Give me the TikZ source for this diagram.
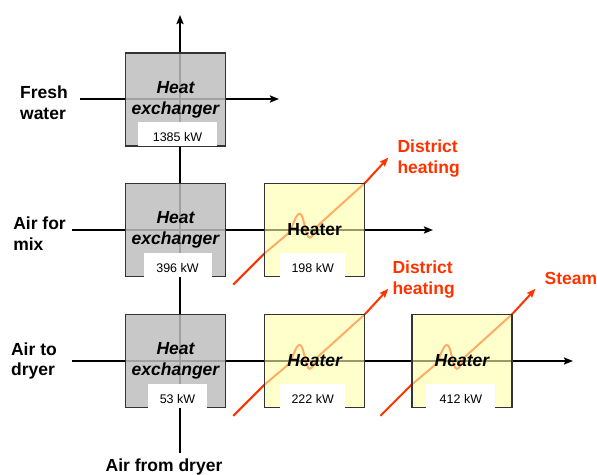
\documentclass[tikz,border=0pt]{standalone}
\usepackage{fontspec}
\setmainfont{Liberation Sans}
\usetikzlibrary{positioning, calc, arrows.meta, backgrounds}
\definecolor{hx_fill}{HTML}{BEBEBE}
\definecolor{heater_fill}{HTML}{FFFFAA}
\definecolor{hot}{HTML}{FF3300}

\begin{document}
\begin{tikzpicture}[
    x=1pt, y=1pt,
    >={Stealth[length=9pt, width=7pt, inset=1.5pt]},
    font=\bfseries\fontsize{17.5pt}{21pt}\selectfont,
    block/.style={
        draw=black!80,
        line width=1.2pt,
        align=center,
        minimum width=100pt,
        minimum height=93pt,
        inner sep=0pt,
        text opacity=1
    },
    exchanger/.style={block, fill=hx_fill, fill opacity=0.85,
        font=\bfseries\itshape\fontsize{17.5pt}{21pt}\selectfont},
    heater/.style={block, fill=heater_fill, fill opacity=0.6},
    duty/.style={
        fill=white,
        inner sep=0pt,
        minimum height=24pt,
        text height=15pt,
        text depth=0pt,
        font=\mdseries\fontsize{12.5pt}{14pt}\selectfont
    },
    stream/.style={line width=2pt},
    hot_line/.style={line width=2pt, draw=hot},
    stream_label/.style={align=left, inner sep=0pt},
    hot_label/.style={stream_label, text=hot}
]
\useasboundingbox (0,0) rectangle (597,474);

\node[exchanger] (HX1) at (175.5,374.5) {Heat\\exchanger};
\node[exchanger, below=36pt of HX1] (HX2) {Heat\\exchanger};
\node[exchanger, below=37pt of HX2] (HX3) {Heat\\exchanger};
\node[heater, right=38pt of HX2] (HA) {Heater};
\node[heater, right=38pt of HX3, font=\bfseries\itshape\fontsize{17.5pt}{21pt}\selectfont] (HB) {Heater};
\node[heater, right=46pt of HB, font=\bfseries\itshape\fontsize{17.5pt}{21pt}\selectfont] (HC) {Heater};

\node[duty, minimum width=79pt, above=0pt of HX1.south, xshift=2pt] (HX1_duty) {1385 kW};
\node[duty, minimum width=68pt, above=0pt of HX2.south, xshift=2pt] (HX2_duty) {396 kW};
\node[duty, minimum width=59pt, above=0pt of HX3.south, xshift=2pt] (HX3_duty) {53 kW};
\node[duty, minimum width=65pt, above=0pt of HA.south, xshift=-2pt] (HA_duty) {198 kW};
\node[duty, minimum width=65pt, above=0pt of HB.south, xshift=-2pt] (HB_duty) {222 kW};
\node[duty, minimum width=69pt, above=0pt of HC.south, xshift=-1pt] (HC_duty) {412 kW};

\coordinate (fw_in) at (80,375);
\coordinate (fw_out) at (279,375);
\coordinate (mix_in) at (72,244);
\coordinate (mix_out) at (433,244);
\coordinate (dryer_air_in) at (72,113);
\coordinate (dryer_air_out) at (573,113);
\coordinate (exhaust_in) at (180,21);
\coordinate (exhaust_out) at (180,459);

\begin{scope}[on background layer]
    \draw[stream, ->] (fw_in) -- (fw_out);
    \draw[stream, ->] (mix_in) -- (mix_out);
    \draw[stream, ->] (dryer_air_in) -- (dryer_air_out);
    \draw[stream, ->] (exhaust_in) -- (exhaust_out);
    % hot water / steam coils
    \foreach \h in {HA, HB, HC} {
        \draw[hot_line, ->, shift={(\h.center)}]
            (-81.5,-55) -- (-50.5,-24) -- (-28,-5)
            .. controls (-22,0) and (-19.5,16) .. (-15,16)
            .. controls (-10.5,16) and (-9.5,-8) .. (-5,-8)
            .. controls (-1.5,-8) and (0,1) .. (3,4)
            -- (\h.north east) -- ++(23,25) coordinate (\h-out);
    }
\end{scope}

\node[stream_label, left=12pt of fw_in, anchor=base east, yshift=-21pt] (fw_label) {Fresh\\water};
\node[stream_label, left=6pt of mix_in, anchor=base east, yshift=-21pt] (mix_label) {Air for\\mix};
\node[stream_label, left=15pt of dryer_air_in, anchor=base east, yshift=-15pt] (dryer_label) {Air to\\dryer};
\node[stream_label, anchor=base] (exhaust_label) at ([xshift=-16pt, yshift=-18pt]exhaust_in) {Air from dryer};

\node[hot_label, right=9pt of HA-out, anchor=base west, yshift=-16pt] (HA_label) {District\\heating};
\node[hot_label, right=4pt of HB-out, anchor=base west, yshift=-5.5pt] (HB_label) {District\\heating};
\node[hot_label, right=9pt of HC-out, anchor=base west, yshift=4.5pt] (HC_label) {Steam};

\end{tikzpicture}
\end{document}
